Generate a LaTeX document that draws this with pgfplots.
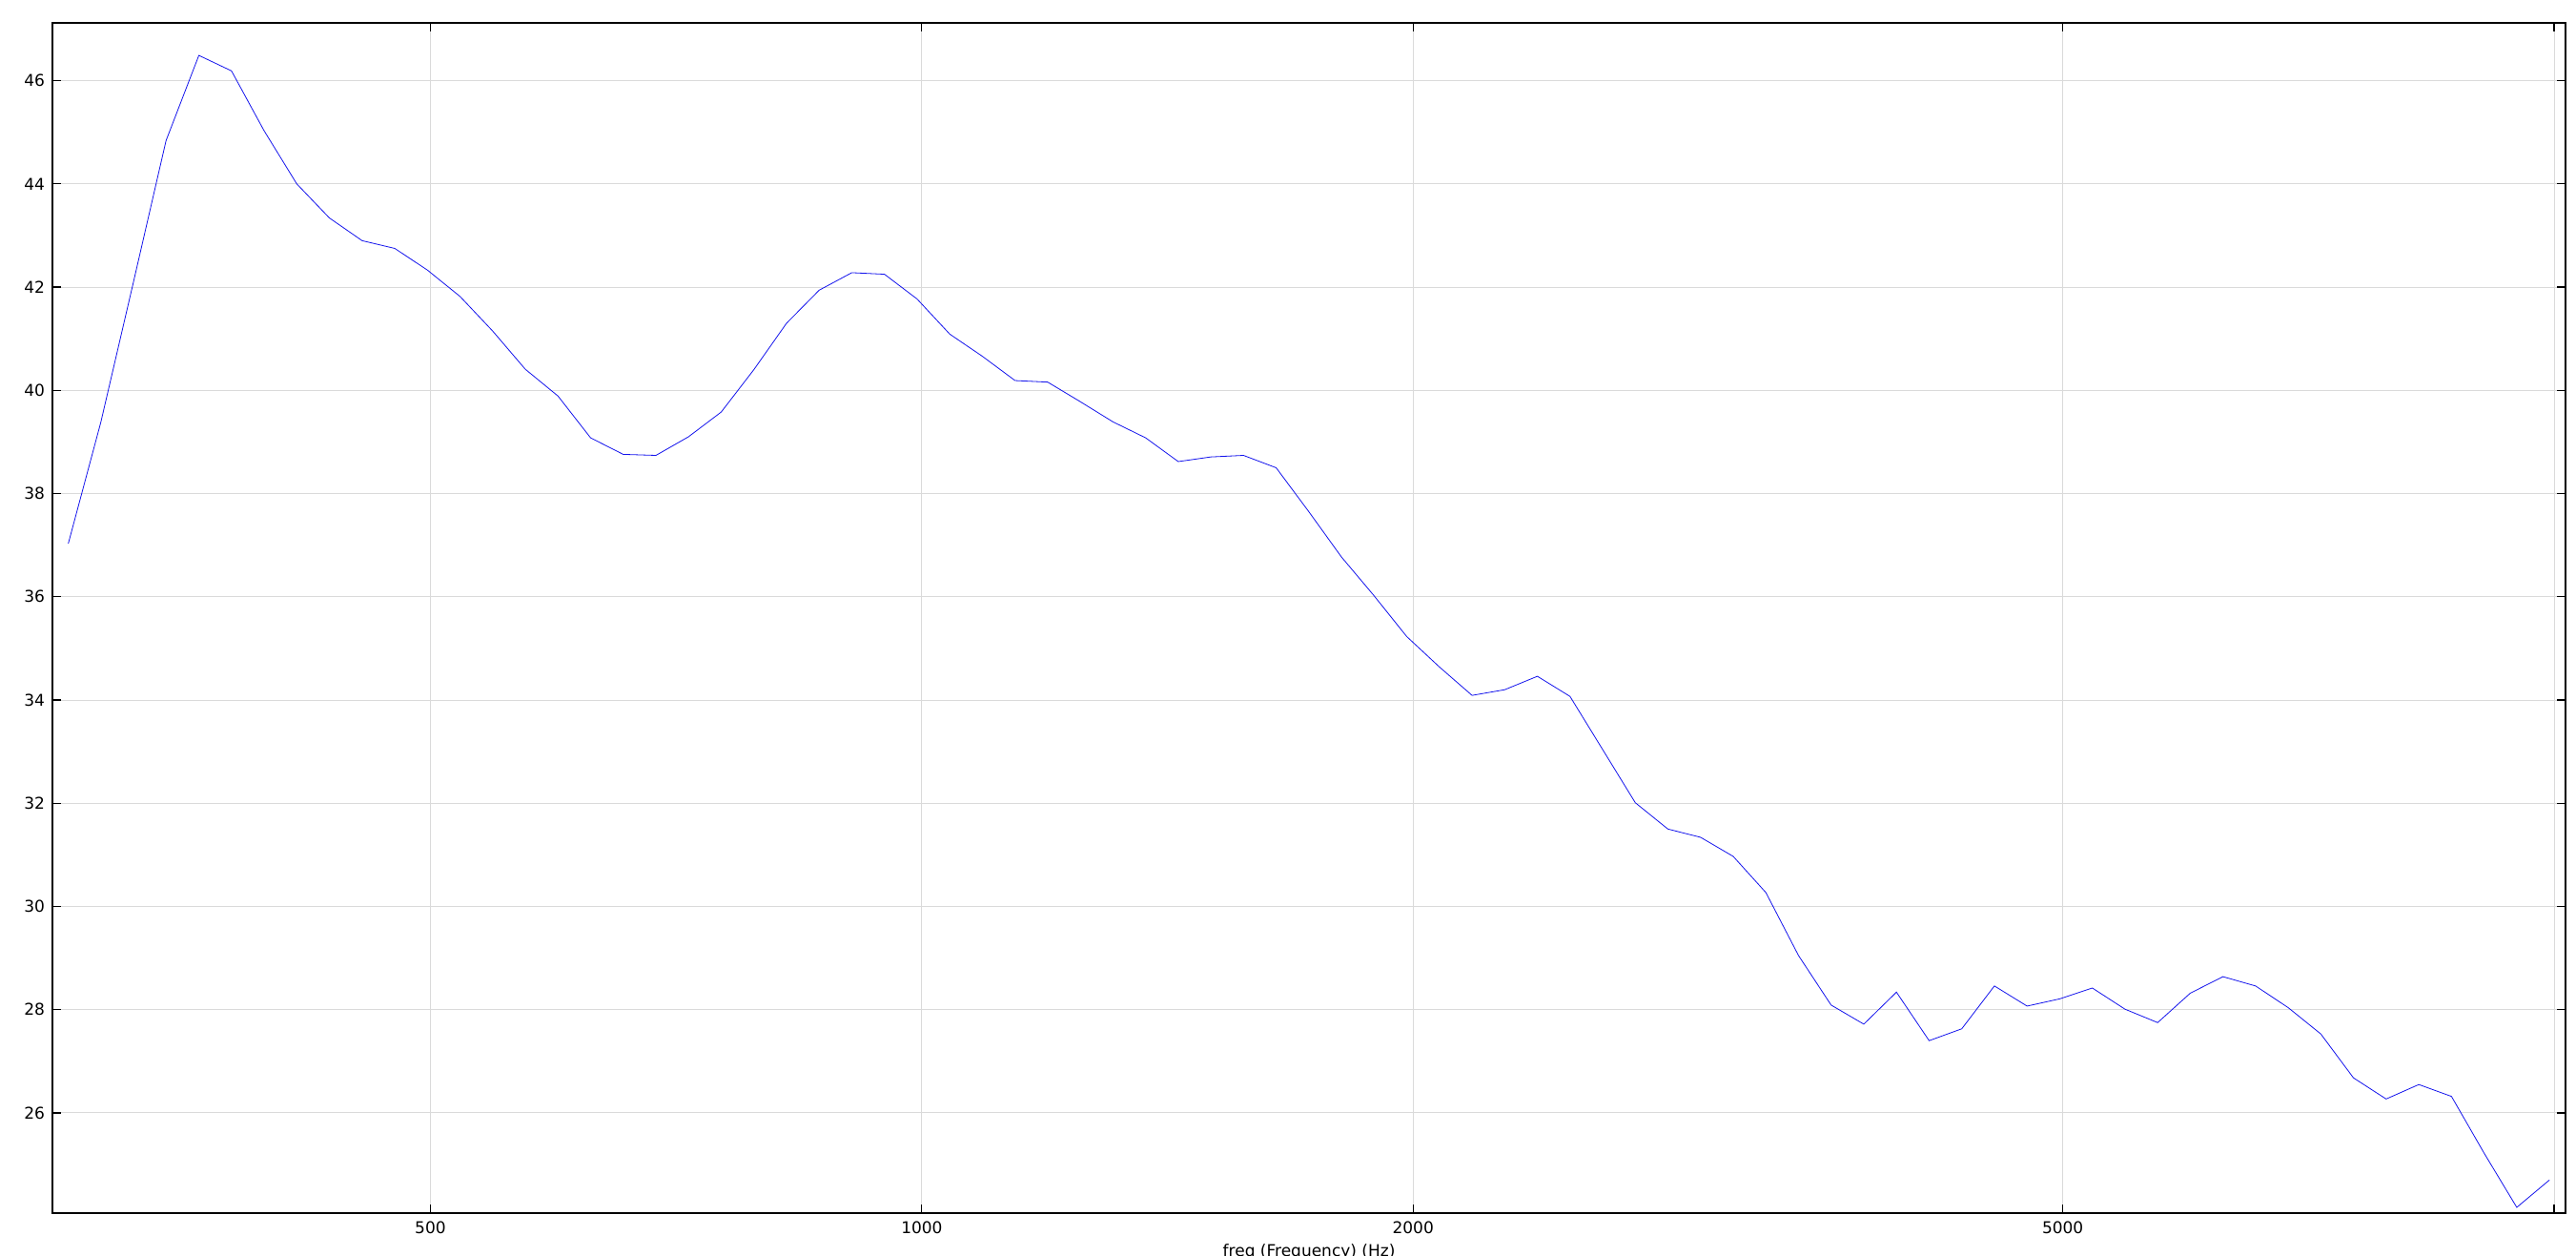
\documentclass[border=0pt]{standalone}
\usepackage{fontspec}
\setmainfont{DejaVu Sans}
\usepackage{pgfplots}
\pgfplotsset{compat=1.18}
\definecolor{gridgray}{RGB}{218,218,218}
\begin{document}
\begin{tikzpicture}
\begin{axis}[
  name=ax,
  scale only axis,
  width=1318pt, height=624pt,
  xmode=log,
  xmin=293.4, xmax=10163,
  ymin=24.06, ymax=47.12,
  xtick={500,1000,2000,5000,10000},
  xticklabels={500,1000,2000,5000,},
  ytick={26,28,30,32,34,36,38,40,42,44,46},
  minor xtick={}, minor ytick={},
  tick align=inside,
  major tick length=4.5pt,
  tick style={black, line width=0.6pt},
  axis line style={black, line width=0.6pt},
  grid=major,
  major grid style={gridgray, line width=0.5pt},
  tick label style={font=\fontsize{8.5}{10}\selectfont},
  label style={font=\fontsize{8.5}{10}\selectfont},
  /pgf/number format/assume math mode=true,
  xticklabel style={yshift=-1pt},
  yticklabel style={xshift=-0.5pt},
  xlabel={freq (Frequency) (Hz)},
  xlabel style={yshift=1.5pt},
]
\addplot[blue!85!gray, line width=0.4pt] coordinates {
(300,37.03) (314.1,39.38) (328.9,42.10) (344.4,44.84) (360.7,46.49)
(377.7,46.19) (395.5,45.03) (414.1,44.00) (433.6,43.34) (454.1,42.90)
(475.5,42.75) (497.9,42.33) (521.3,41.82) (545.9,41.15) (571.6,40.41)
(598.6,39.89) (626.8,39.08) (656.3,38.76) (687.3,38.74) (719.6,39.10)
(753.6,39.58) (789.1,40.40) (826.3,41.30) (865.2,41.94) (906.0,42.28)
(948.7,42.25) (993.4,41.77) (1040.2,41.09) (1089.2,40.66) (1140.6,40.19)
(1194.3,40.16) (1250.6,39.78) (1309.5,39.39) (1371.3,39.08) (1435.9,38.62)
(1503.6,38.71) (1574.4,38.74) (1648.6,38.50) (1726.3,37.65) (1807.7,36.77)
(1892.9,36.02) (1982.1,35.23) (2075.5,34.64) (2173.3,34.09) (2275.7,34.20)
(2383.0,34.46) (2495.3,34.07) (2612.9,33.04) (2736.0,32.01) (2865.0,31.50)
(3000,31.34) (3141.4,30.97) (3289.4,30.27) (3444.5,29.05) (3606.8,28.09)
(3776.8,27.72) (3954.8,28.34) (4141.2,27.40) (4336.3,27.63) (4540.7,28.46)
(4754.7,28.07) (4978.8,28.21) (5213.4,28.42) (5459.1,28.01) (5716.4,27.75)
(5985.8,28.32) (6267.9,28.64) (6563.3,28.46) (6872.6,28.04) (7196.5,27.53)
(7535.7,26.68) (7890.8,26.27) (8262.7,26.55) (8652.1,26.32) (9059.9,25.22)
(9486.8,24.17) (9933.9,24.70)
};
\end{axis}
\pgfresetboundingbox
\path ([xshift=-27.5pt,yshift=-22.5pt]ax.south west) rectangle ([xshift=5.5pt,yshift=12pt]ax.north east);
\end{tikzpicture}
\end{document}
